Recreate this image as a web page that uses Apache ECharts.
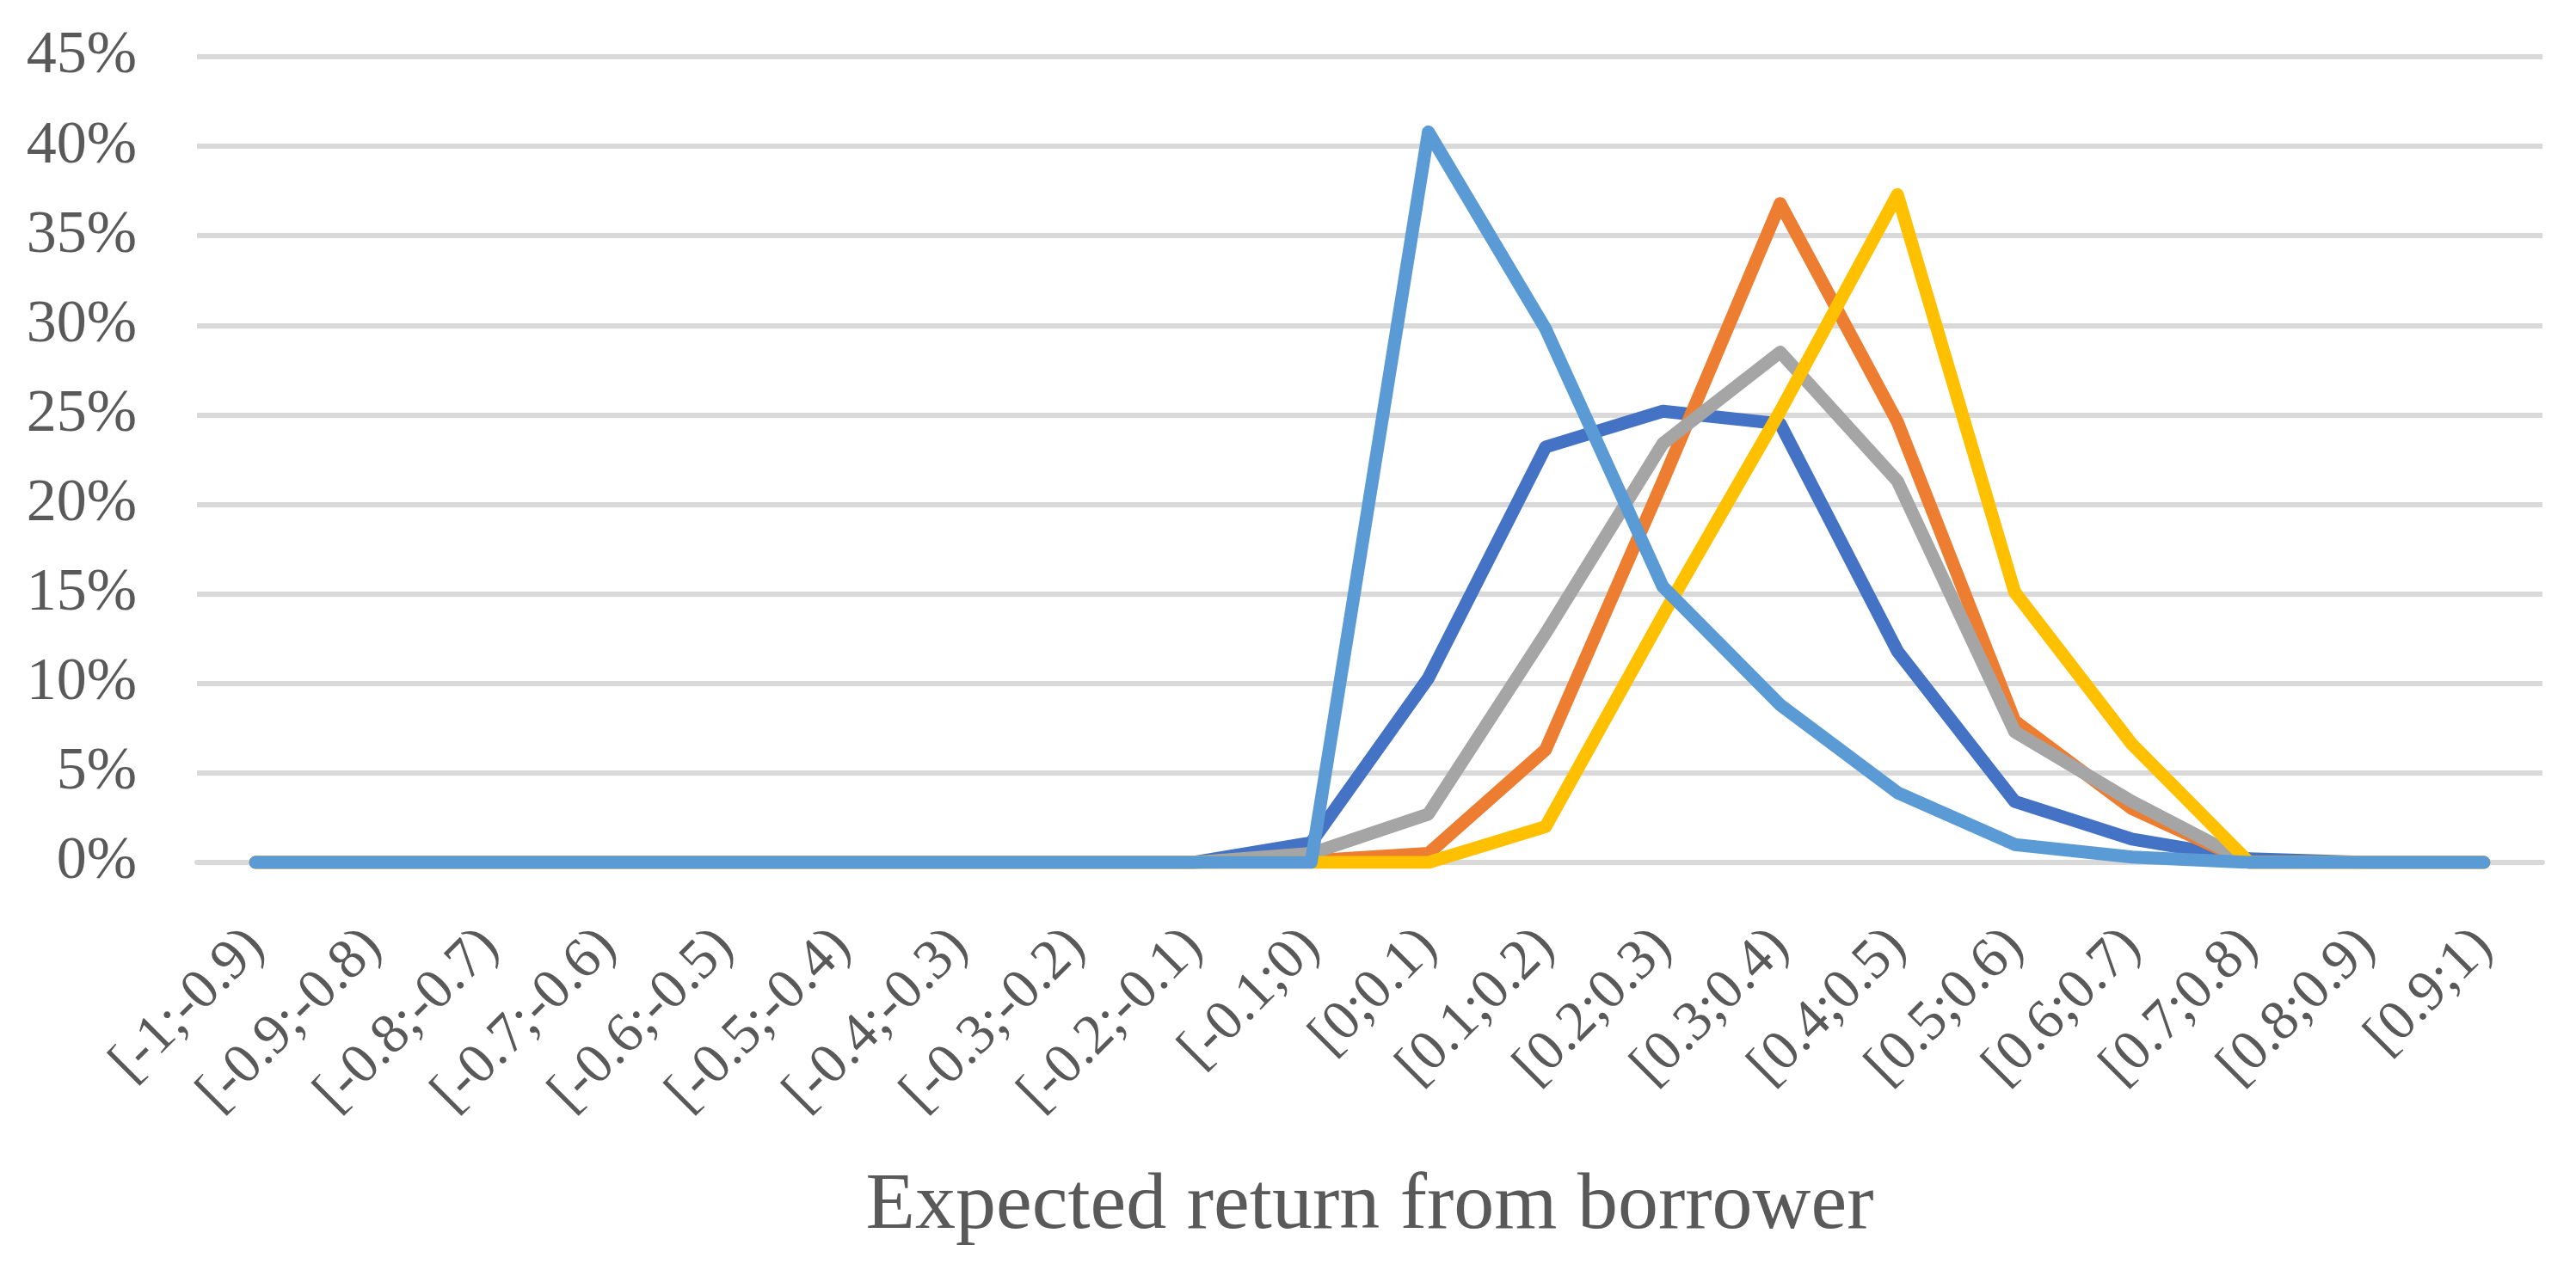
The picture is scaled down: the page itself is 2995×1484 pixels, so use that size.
<!DOCTYPE html>
<html>
<head>
<meta charset="utf-8">
<title>Expected return from borrower</title>
<script src="https://cdn.jsdelivr.net/npm/echarts@6/dist/echarts.min.js"></script>
<style>
  html, body { margin: 0; padding: 0; background: #fff; }
  #chart { width: 2995px; height: 1484px; }
</style>
</head>
<body>
<div id="chart"></div>
<script>
// categories: return buckets
const buckets = [
  '[-1;-0.9)', '[-0.9;-0.8)', '[-0.8;-0.7)', '[-0.7;-0.6)', '[-0.6;-0.5)',
  '[-0.5;-0.4)', '[-0.4;-0.3)', '[-0.3;-0.2)', '[-0.2;-0.1)', '[-0.1;0)',
  '[0;0.1)', '[0.1;0.2)', '[0.2;0.3)', '[0.3;0.4)', '[0.4;0.5)',
  '[0.5;0.6)', '[0.6;0.7)', '[0.7;0.8)', '[0.8;0.9)', '[0.9;1)'
]

// share of borrowers per bucket, in %
const series1 = [0, 0, 0, 0, 0, 0, 0, 0, 0, 1.1, 10.3, 23.2, 25.2, 24.5, 11.8, 3.4, 1.3, 0.2, 0, 0]
const series2 = [0, 0, 0, 0, 0, 0, 0, 0, 0, 0.1, 0.5, 6.3, 21.3, 36.8, 24.6, 7.9, 3.0, 0, 0, 0]
const series3 = [0, 0, 0, 0, 0, 0, 0, 0, 0, 0.5, 2.7, 12.8, 23.4, 28.5, 21.3, 7.3, 3.4, 0, 0, 0]
const series4 = [0, 0, 0, 0, 0, 0, 0, 0, 0, 0, 0, 2.0, 13.8, 25.2, 37.3, 15.1, 6.6, 0, 0, 0]
const series5 = [0, 0, 0, 0, 0, 0, 0, 0, 0, 0, 40.8, 29.8, 15.4, 8.8, 3.9, 1.0, 0.3, 0, 0, 0]

const seriesList = [
  { name: 'Series 1', data: series1, color: '#4472C4' },
  { name: 'Series 2', data: series2, color: '#ED7D31' },
  { name: 'Series 3', data: series3, color: '#A5A5A5' },
  { name: 'Series 4', data: series4, color: '#FFC000' },
  { name: 'Series 5', data: series5, color: '#5B9BD5' }
]

const FONT = '"Liberation Serif", "Palatino Linotype", Palatino, serif'
const TEXT = '#595959'
const GRID = '#D9D9D9'

const chart = echarts.init(document.getElementById('chart'), null, { renderer: 'canvas' })

chart.setOption({
  animation: false,
  backgroundColor: '#ffffff',
  grid: { left: 229, right: 39, top: 66, bottom: 481, containLabel: false },
  xAxis: {
    type: 'category',
    data: buckets,
    boundaryGap: true,
    name: 'Expected return from borrower',
    nameLocation: 'middle',
    nameGap: 400,
    nameTextStyle: {
      fontFamily: FONT,
      fontSize: 94,
      color: TEXT,
      verticalAlign: 'middle'
    },
    axisLine: { show: true, lineStyle: { color: GRID, width: 6 } },
    axisTick: { show: false },
    axisLabel: {
      interval: 0,
      rotate: 45,
      margin: 88,
      fontFamily: FONT,
      fontSize: 66,
      color: TEXT
    },
    splitLine: { show: false }
  },
  yAxis: {
    type: 'value',
    min: 0,
    max: 45,
    interval: 5,
    axisLine: { show: false },
    axisTick: { show: false },
    axisLabel: {
      margin: 70,
      fontFamily: FONT,
      fontSize: 70,
      color: TEXT,
      formatter: '{value}%'
    },
    splitLine: { show: true, lineStyle: { color: GRID, width: 6 } }
  },
  series: seriesList.map(s => ({
    name: s.name,
    type: 'line',
    data: s.data,
    showSymbol: false,
    symbol: 'none',
    color: s.color,
    lineStyle: { width: 15, color: s.color, cap: 'round', join: 'round' }
  }))
})
</script>
</body>
</html>
